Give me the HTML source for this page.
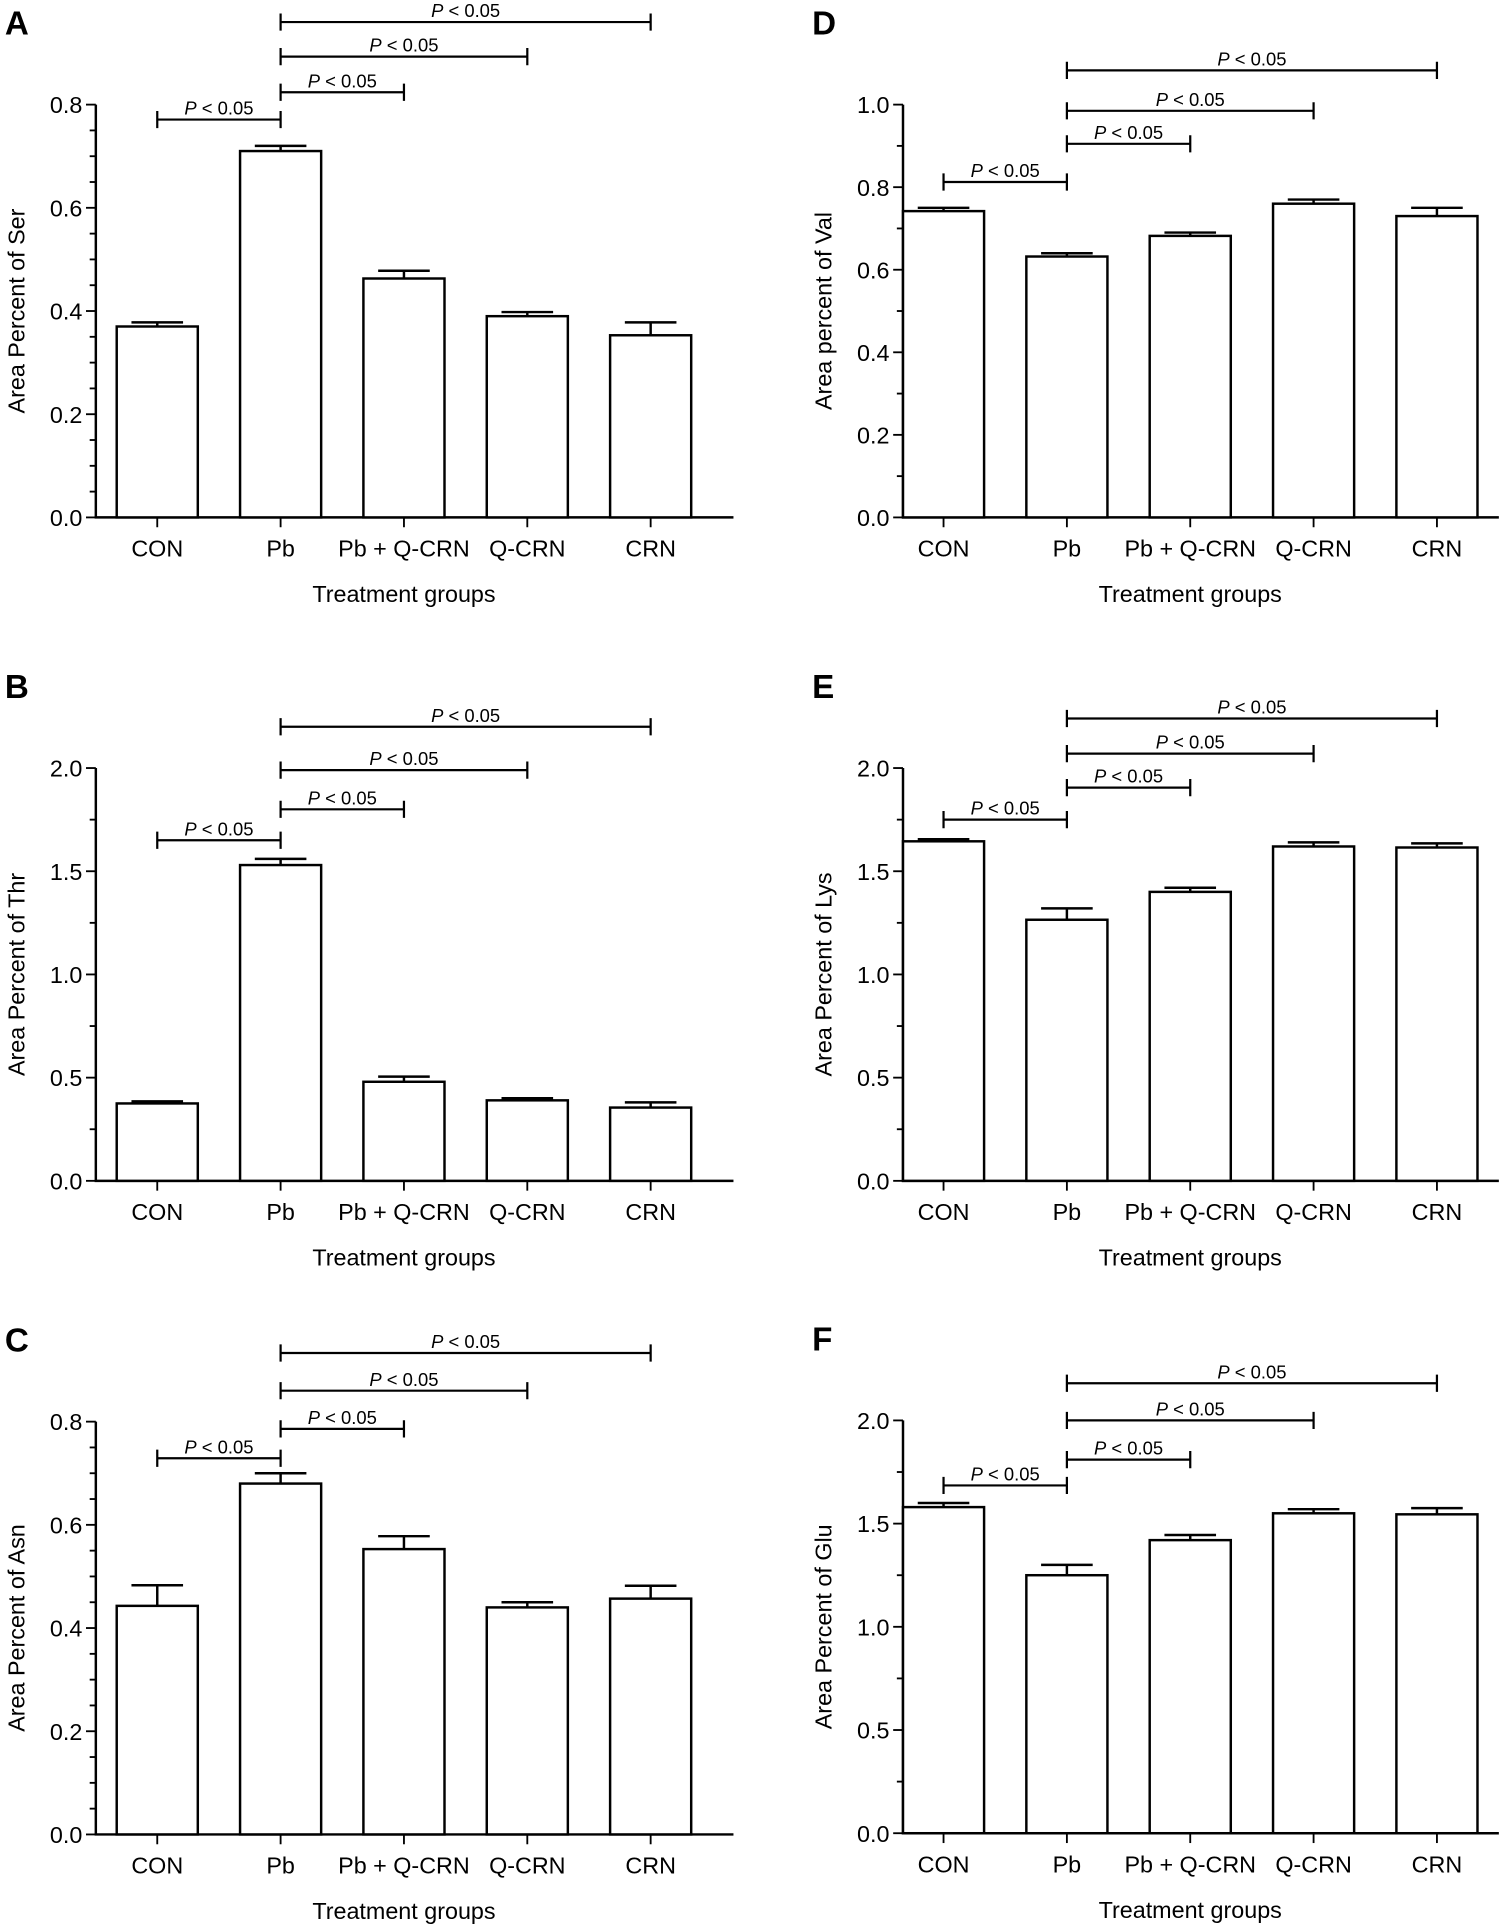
<!DOCTYPE html>
<html><head><meta charset="utf-8"><style>
html,body{margin:0;padding:0;background:#fff;}
svg{display:block;font-family:"Liberation Sans",sans-serif;}
</style></head><body>
<svg id="fig" width="1505" height="1928" viewBox="0 0 1225 1569" xmlns="http://www.w3.org/2000/svg"></svg>
<script>
const categories = ["CON","Pb","Pb + Q-CRN","Q-CRN","CRN"];
const serValues = [0.37,0.71,0.463,0.39,0.353];
const serErrors = [0.008,0.01,0.015,0.008,0.025];
const thrValues = [0.375,1.53,0.48,0.39,0.355];
const thrErrors = [0.01,0.03,0.025,0.01,0.025];
const asnValues = [0.443,0.68,0.553,0.44,0.457];
const asnErrors = [0.04,0.02,0.025,0.01,0.025];
const valValues = [0.742,0.632,0.682,0.76,0.73];
const valErrors = [0.008,0.008,0.008,0.01,0.02];
const lysValues = [1.645,1.265,1.40,1.62,1.615];
const lysErrors = [0.01,0.055,0.02,0.02,0.02];
const gluValues = [1.58,1.25,1.42,1.55,1.545];
const gluErrors = [0.02,0.05,0.025,0.02,0.03];
const ticks08 = ["0.0","0.2","0.4","0.6","0.8"];
const ticks10 = ["0.0","0.2","0.4","0.6","0.8","1.0"];
const ticks20 = ["0.0","0.5","1.0","1.5","2.0"];
const serBrackets = [0.771,0.824,0.893,0.96];
const valBrackets = [0.8125,0.905,0.985,1.083];
const thrBrackets = [1.65,1.80,1.99,2.20];
const lysBrackets = [1.75,1.905,2.07,2.24];
const asnBrackets = [0.729,0.786,0.86,0.933];
const gluBrackets = [1.685,1.81,2.0,2.18];

const NS="http://www.w3.org/2000/svg";
const svg=document.getElementById('fig');
function mk(tag,attrs,parent,text){const e=document.createElementNS(NS,tag);for(const k in attrs)e.setAttribute(k,attrs[k]);if(text!==undefined)e.textContent=text;parent.appendChild(e);return e;}

const panels=[
 {letter:"A",ax:78,off:50,len:519,y0:421,max:0.8,tickStep:0.2,minor:0.05,ticks:ticks08,vals:serValues,errs:serErrors,br:serBrackets,ylab:"Area Percent of Ser",name:"ser"},
 {letter:"D",ax:735,off:33,len:485,y0:421,max:1.0,tickStep:0.2,minor:0.1,ticks:ticks10,vals:valValues,errs:valErrors,br:valBrackets,ylab:"Area percent of Val",name:"val"},
 {letter:"B",ax:78,off:50,len:519,y0:961,max:2.0,tickStep:0.5,minor:0.25,ticks:ticks20,vals:thrValues,errs:thrErrors,br:thrBrackets,ylab:"Area Percent of Thr",name:"thr"},
 {letter:"E",ax:735,off:33,len:485,y0:961,max:2.0,tickStep:0.5,minor:0.25,ticks:ticks20,vals:lysValues,errs:lysErrors,br:lysBrackets,ylab:"Area Percent of Lys",name:"lys"},
 {letter:"C",ax:78,off:50,len:519,y0:1493,max:0.8,tickStep:0.2,minor:0.05,ticks:ticks08,vals:asnValues,errs:asnErrors,br:asnBrackets,ylab:"Area Percent of Asn",name:"asn"},
 {letter:"F",ax:735,off:33,len:485,y0:1492,max:2.0,tickStep:0.5,minor:0.25,ticks:ticks20,vals:gluValues,errs:gluErrors,br:gluBrackets,ylab:"Area Percent of Glu",name:"glu"}
];
panels.forEach(p=>{
 const g=mk('g',{},svg);
 
 
 const H=336, px=H/p.max;
 const y=v=>p.y0-v*px;
 const x=i=>p.ax+p.off+i*100.4;
 const L=mk('text',{x:p.ax-74,y:p.y0-393,'font-size':27,'font-weight':'bold'},g,p.letter);
 
 const yAxis=mk('line',{x1:p.ax,y1:y(p.max),x2:p.ax,y2:p.y0,stroke:'#000','stroke-width':2},g);
 
 const xAxis=mk('line',{x1:p.ax-1,y1:p.y0,x2:p.ax+p.len,y2:p.y0,stroke:'#000','stroke-width':2},g);
 
 const nMinor=Math.round(p.max/p.minor);
 for(let k=0;k<=nMinor;k++){const v=k*p.minor;const major=Math.abs(v/p.tickStep-Math.round(v/p.tickStep))<1e-6;
  mk('line',{x1:p.ax-(major?8:5),y1:y(v),x2:p.ax,y2:y(v),stroke:'#000','stroke-width':1.5},g);}
 p.ticks.forEach(t=>{const tl=mk('text',{x:p.ax-11,y:y(parseFloat(t))+7,'font-size':19,'text-anchor':'end'},g,t);
  });
 const yl=mk('text',{x:0,y:0,'font-size':19,'text-anchor':'middle',transform:`translate(${p.ax-58},${p.y0-168}) rotate(-90)`},g,p.ylab);
 
 categories.forEach((c,i)=>{
  mk('line',{x1:x(i),y1:p.y0,x2:x(i),y2:p.y0+8,stroke:'#000','stroke-width':1.5},g);
  const tl=mk('text',{x:x(i),y:p.y0+32,'font-size':19,'text-anchor':'middle'},g,c);
  
  const v=p.vals[i],e=p.errs[i];
  const ebar=mk('path',{d:`M${x(i)} ${y(v)}V${y(v+e)}M${x(i)-21} ${y(v+e)}H${x(i)+21}`,stroke:'#000','stroke-width':2,fill:'none'},g);
  
  const b=mk('rect',{x:x(i)-33,y:y(v),width:66,height:v*px,fill:'#fff',stroke:'#000','stroke-width':2},g);
  
 });
 const xt=mk('text',{x:p.ax+p.off+200.8,y:p.y0+69,'font-size':19,'text-anchor':'middle'},g,'Treatment groups');
 
 const pairs=[[0,1],[1,2],[1,3],[1,4]];
 pairs.forEach((pr,k)=>{
  const by=y(p.br[k]),x1=x(pr[0]),x2=x(pr[1]);
  const br=mk('path',{d:`M${x1} ${by-7}V${by+7}M${x1} ${by}H${x2}M${x2} ${by-7}V${by+7}`,stroke:'#000','stroke-width':1.8,fill:'none'},g);
  
  const t=mk('text',{x:(x1+x2)/2,y:by-4,'font-size':15,'text-anchor':'middle'},g);
  
  mk('tspan',{'font-style':'italic'},t,'P');mk('tspan',{},t,' < 0.05');
 });
});
</script>
</body></html>
